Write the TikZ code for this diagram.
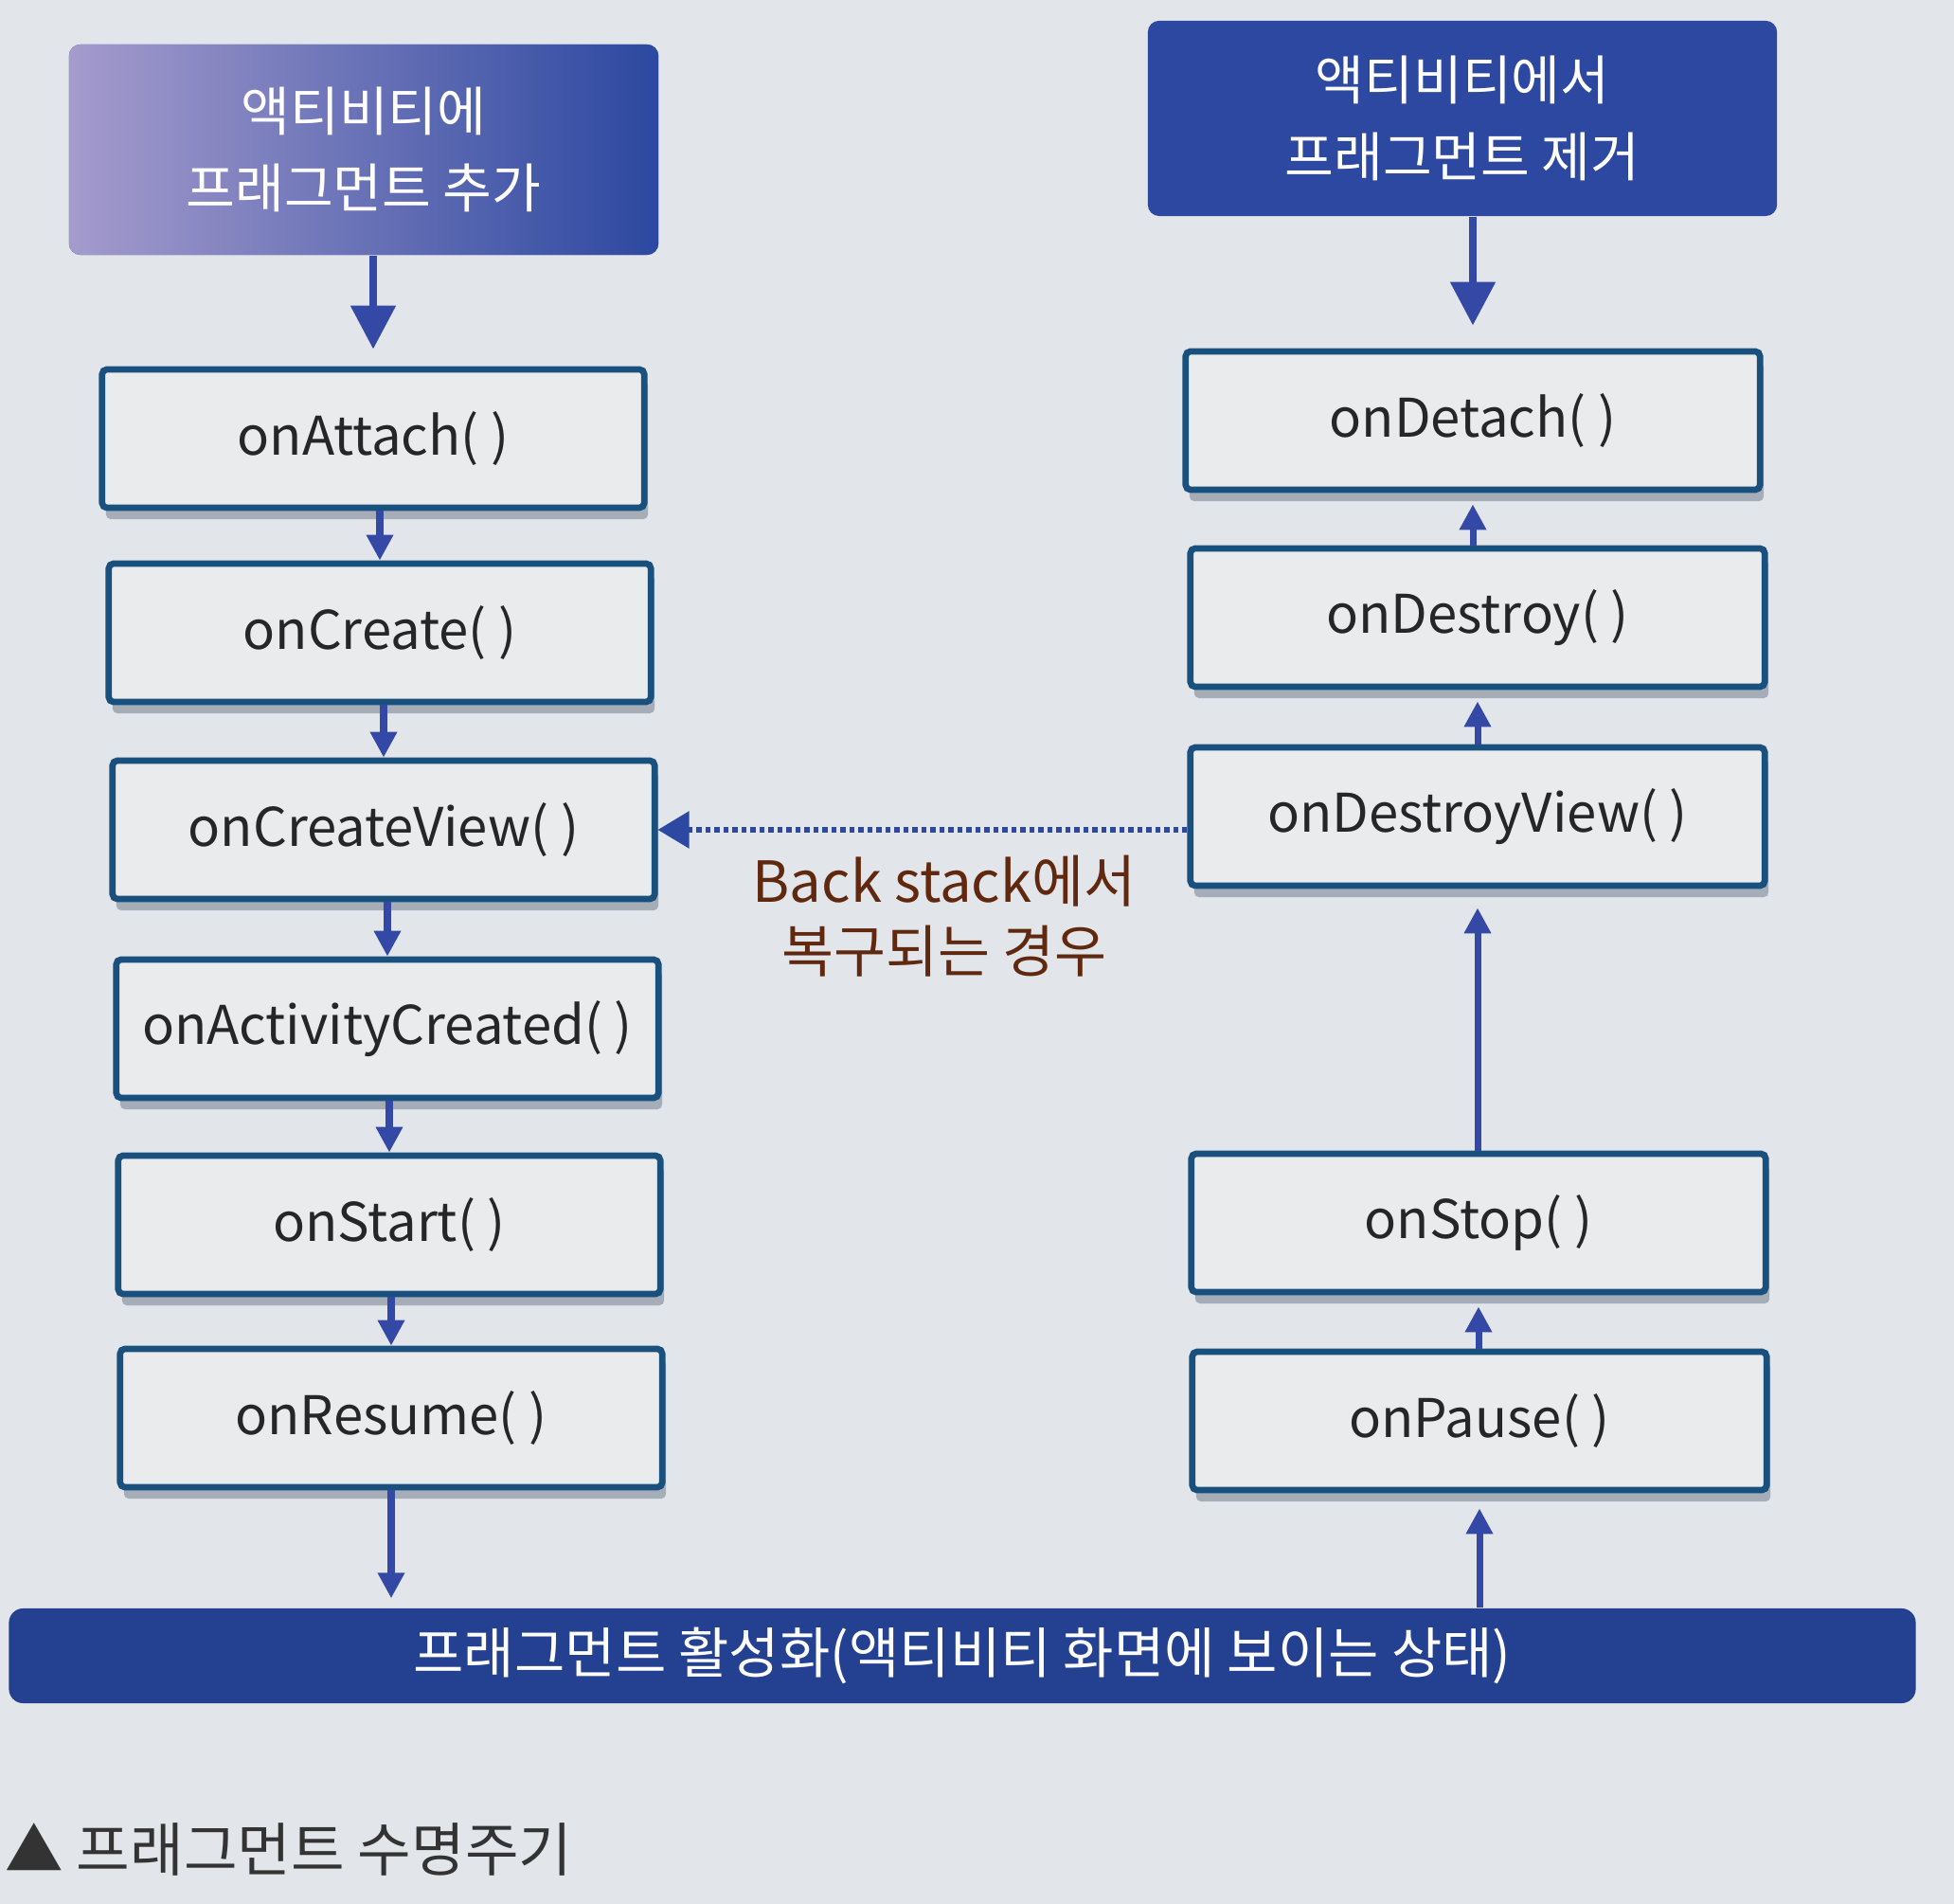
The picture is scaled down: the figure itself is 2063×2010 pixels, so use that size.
\documentclass[tikz,border=0pt]{standalone}
\usepackage{fontspec}
\setmainfont{Noto Sans CJK KR}
\usetikzlibrary{shadows,arrows.meta}

\definecolor{paper}{RGB}{226,229,233}
\definecolor{boxfill}{RGB}{233,235,237}
\definecolor{boxline}{RGB}{26,80,125}
\definecolor{navy}{RGB}{44,72,160}
\definecolor{barnavy}{RGB}{36,64,145}
\definecolor{glare}{RGB}{165,155,205}
\definecolor{arrowblue}{RGB}{52,72,165}
\definecolor{backtext}{RGB}{95,40,15}
\definecolor{shade}{RGB}{150,160,172}

\begin{document}
\begin{tikzpicture}[x=0.01cm,y=-0.01cm,
    cbox/.style={draw=boxline,line width=1.9pt,fill=boxfill,rounded corners=0.5mm,
      minimum height=1.46cm,inner sep=0pt,text=black!85,font=\fontsize{16}{19}\selectfont,
      drop shadow={shadow xshift=0.4mm,shadow yshift=-1.2mm,fill=shade,opacity=0.8}},
    lbox/.style={cbox,minimum width=5.72cm},
    rbox/.style={cbox,minimum width=6.06cm},
    hdr/.style={fill=navy,rounded corners=1.2mm,text=white,align=center,inner sep=0pt,
      font=\fontsize{16}{22.8}\selectfont},
    flow/.style={-{Triangle[length=2.7mm,width=2.7mm]},draw=arrowblue,line width=2pt},
    bigflow/.style={-{Triangle[length=4.6mm,width=4.6mm]},draw=arrowblue,line width=2.4pt}]

  % paper
  \fill[paper] (0,0) rectangle (2063,2010);

  % headers
  \node[hdr,left color=glare,right color=navy,minimum width=6.22cm,minimum height=2.22cm] (addhdr) at (384,158) {액티비티에\\프래그먼트 추가};
  \node[hdr,minimum width=6.64cm,minimum height=2.06cm] (removehdr) at (1544,125) {액티비티에서\\프래그먼트 제거};

  % adding side
  \node[lbox] (attach) at (394,463) {onAttach( )};
  \node[lbox] (create) at (401,668) {onCreate( )};
  \node[lbox] (createview) at (405,876) {onCreateView( )};
  \node[lbox] (activity) at (409,1086) {onActivityCreated( )};
  \node[lbox] (start) at (411,1293) {onStart( )};
  \node[lbox] (resume) at (413,1497) {onResume( )};

  % removing side
  \node[rbox] (detach) at (1555,444) {onDetach( )};
  \node[rbox] (destroy) at (1560,652) {onDestroy( )};
  \node[rbox] (destroyview) at (1560,862) {onDestroyView( )};
  \node[rbox] (stop) at (1561,1291) {onStop( )};
  \node[rbox] (pause) at (1562,1500) {onPause( )};

  % active state
  \node[fill=barnavy,rounded corners=1.5mm,minimum width=20.12cm,minimum height=1cm,inner sep=0pt,
    text=white,font=\fontsize{16.5}{19}\selectfont] (active) at (1016,1748) {프래그먼트 활성화(액티비티 화면에 보이는 상태)};

  % arrows down
  \draw[bigflow,shorten >=1.8mm] (attach.north |- addhdr.south) -- (attach.north);
  \foreach \a/\b in {attach/create,create/createview,createview/activity,activity/start,start/resume}
    \draw[flow] (\b.north |- \a.south) -- (\b.north);
  \draw[flow,shorten >=1mm] (resume.south) -- (resume.south |- active.north);

  % arrows up
  \draw[flow,shorten >=1.6mm] (pause.south |- active.north) -- (pause.south);
  \foreach \a/\b in {pause/stop,destroyview/destroy,destroy/detach}
    \draw[flow,shorten >=1.2mm] (\b.south |- \a.north) -- (\b.south);
  \draw[flow,shorten >=2mm] (destroyview.south |- stop.north) -- (destroyview.south);
  \draw[bigflow,shorten >=2.4mm] (detach.north |- removehdr.south) -- (detach.north);

  % back stack
  \draw[draw=navy,line width=1.6pt,dash pattern=on 1.5pt off 1.2pt,-{Triangle[length=3.3mm,width=3.8mm]}]
    (destroyview.west |- createview.east) -- (createview.east);
  \node[text=backtext,align=center,font=\fontsize{17}{21}\selectfont] (backlbl) at (997,967) {Back stack에서\\복구되는 경우};

  % caption
  \node[anchor=west,inner sep=0pt,text=black!80,font=\fontsize{17.5}{20}\selectfont] (caption) at (5,1952) {▲ 프래그먼트 수명주기};
\end{tikzpicture}
\end{document}
